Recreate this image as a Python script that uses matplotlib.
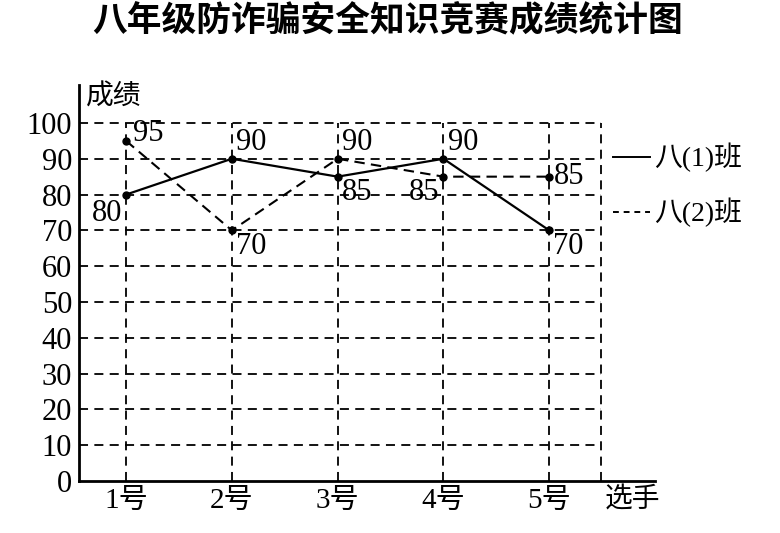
import matplotlib
matplotlib.use("Agg")
import matplotlib.pyplot as plt

FONT = ['Liberation Serif', 'Noto Sans CJK SC']
plt.rcParams['font.family'] = FONT

players = ['1号', '2号', '3号', '4号', '5号']
class1 = [80, 90, 85, 90, 70]
class2 = [95, 70, 90, 85, 85]
yticks = [0, 10, 20, 30, 40, 50, 60, 70, 80, 90, 100]

# label offsets (points) for each value
off1 = [(-3, -3, 'right', 'top'), (3, 1, 'left', 'bottom'), (3, -1, 'left', 'top'),
        (3, 1, 'left', 'bottom'), (3, -1, 'left', 'top')]
off2 = [(5, -5, 'left', 'bottom'), (3, -1, 'left', 'top'), (3, 1, 'left', 'bottom'),
        (-3, -1, 'right', 'top'), (3, 0, 'left', 'center')]

fig = plt.figure(figsize=(7.8, 5.33), dpi=100)
ax = fig.add_axes([79 / 780, 52 / 533, (655 - 79) / 780, (481 - 85) / 533])

x = list(range(1, len(players) + 1))
xmin, xmax, xgrid = 0.555, 6.0, 5.49
ax.set_xlim(xmin, xmax)
ax.set_ylim(0, 110.6)

dash = (0, (5, 3.5))
for v in yticks[1:]:
    ax.plot([xmin, xgrid], [v, v], color='black', lw=1.3, ls=dash, zorder=1)
for xi in x + [xgrid]:
    ax.plot([xi, xi], [0, 100], color='black', lw=1.3, ls=dash, zorder=1)

ax.plot(x, class1, color='black', lw=1.6, marker='o', ms=5, zorder=3)
ax.plot(x, class2, color='black', lw=1.5, ls=(0, (5, 3)), marker='o', ms=5, zorder=3)

for xi, v, (dx, dy, ha, va) in zip(x, class1, off1):
    ax.annotate(str(v), (xi, v), xytext=(dx, dy), textcoords='offset points',
                ha=ha, va=va, fontsize=22, family=FONT)
for xi, v, (dx, dy, ha, va) in zip(x, class2, off2):
    ax.annotate(str(v), (xi, v), xytext=(dx, dy), textcoords='offset points',
                ha=ha, va=va, fontsize=22, family=FONT)

for s in ['top', 'right']:
    ax.spines[s].set_visible(False)
ax.spines['left'].set_linewidth(2)
ax.spines['bottom'].set_linewidth(2)

ax.set_xticks(x)
ax.set_xticklabels(players, fontsize=21)
ax.set_yticks(yticks)
ax.set_yticklabels([str(v) for v in yticks], fontsize=22)
ax.tick_params(length=0, pad=5)

ax.text(0.62, 103.5, '成绩', fontsize=20, ha='left', va='bottom')
ax.annotate('选手', (5.52, 0), xytext=(0, -5), textcoords='offset points',
            fontsize=20, ha='left', va='top')

# legend drawn by hand
ax.plot([5.6, 5.95], [90.5, 90.5], color='black', lw=1.4, clip_on=False)
ax.text(5.99, 90.5, '八(1)班', fontsize=20, ha='left', va='center')
ax.plot([5.6, 5.95], [75, 75], color='black', lw=1.4, ls=(0, (3, 2.5)), clip_on=False)
ax.text(5.99, 75, '八(2)班', fontsize=20, ha='left', va='center')

fig.text(388 / 780, 1 - 22 / 533, '八年级防诈骗安全知识竞赛成绩统计图', fontsize=25,
         fontweight='bold', ha='center', va='center')

fig.savefig('out.png', dpi=100)
